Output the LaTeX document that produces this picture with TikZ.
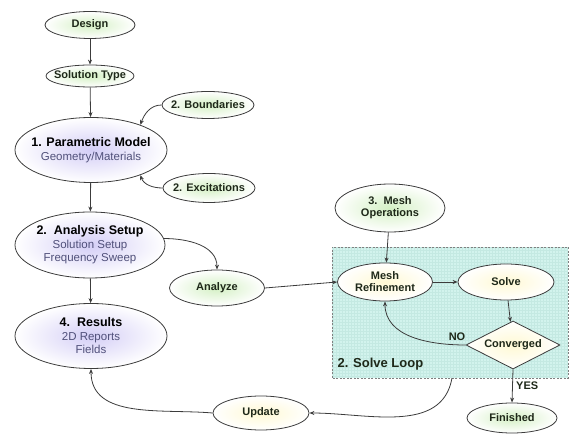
\documentclass[tikz,border=0pt]{standalone}
\usepackage{fontspec}
\setmainfont{Liberation Sans}
\usetikzlibrary{shapes.geometric,arrows.meta}
\definecolor{grn}{RGB}{212,240,196}
\definecolor{prp}{RGB}{212,206,246}
\definecolor{ylw}{RGB}{255,249,212}
\definecolor{boxfill}{RGB}{210,243,237}
\definecolor{gridc}{RGB}{196,233,226}
\definecolor{edgec}{RGB}{60,60,60}
\definecolor{subc}{RGB}{80,80,122}
\definecolor{lblc}{RGB}{30,40,25}
\tikzset{
  shp/.style={draw=edgec, line width=0.8pt, inner sep=0pt},
  el/.style={shp, ellipse},
  gel/.style={el, inner color=grn, outer color=white},
  pel/.style={el, inner color=prp, outer color=white},
  yel/.style={el, inner color=ylw, outer color=white},
  small/.style={font=\fontsize{11}{12}\selectfont\bfseries, text=lblc, align=center},
  big/.style={font=\fontsize{11.5}{13.5}\selectfont, text=subc, align=center},
  conn/.style={draw=edgec, line width=0.8pt, -{Stealth[length=5pt,width=4pt]}},
}
\begin{document}
\begin{tikzpicture}[x=1pt,y=1pt]
\useasboundingbox (0,0) rectangle (569,433);
% solve loop box
\fill[boxfill] (332,55) rectangle (568,186);
\draw[gridc, line width=0.15pt, step=3pt] (332,55) grid (568,186);
\draw[gray, line width=0.8pt, dash pattern=on 2pt off 1.5pt] (332,55) rectangle (568,186);
\node[anchor=west, font=\fontsize{13}{15}\selectfont\bfseries, text=lblc] (looplbl) at (334,69) {2. Solve Loop};
\coordinate (boxbot) at (452,55);

% shapes
\node[gel, minimum width=90pt, minimum height=27pt] (design) at (90,408) {};
\node[gel, minimum width=88pt, minimum height=22pt] (soltype) at (90,357) {};
\node[gel, minimum width=92pt, minimum height=27pt] (bound) at (208,328) {};
\node[pel, minimum width=152pt, minimum height=65pt] (param) at (91,283) {};
\node[gel, minimum width=92pt, minimum height=29pt] (excit) at (209,245) {};
\node[pel, minimum width=150pt, minimum height=66pt] (setup) at (90,188) {};
\node[gel, minimum width=95pt, minimum height=36pt] (analyze) at (217,145) {};
\node[pel, minimum width=152pt, minimum height=65pt] (results) at (91,97) {};
\node[gel, minimum width=110pt, minimum height=48pt] (meshops) at (390,225) {};
\node[yel, minimum width=95pt, minimum height=38pt] (meshref) at (385,151) {};
\node[yel, minimum width=96pt, minimum height=36pt] (solve) at (506,151) {};
\node[shp, diamond, inner color=ylw, outer color=white, minimum width=94pt, minimum height=48pt] (conv) at (513,88) {};
\node[gel, minimum width=90pt, minimum height=30pt] (finished) at (512,15) {};
\node[yel, minimum width=96pt, minimum height=34pt] (update) at (261,20) {};

% texts
\node[small] (designt) at (design) {Design};
\node[small] (soltypet) at (soltype) {Solution Type};
\node[small] (boundt) at (bound) {2. Boundaries};
\node[big] (paramt) at (param) {{\color{black}\fontsize{12.5}{15}\selectfont\bfseries 1. Parametric Model}\\Geometry/Materials};
\node[small] (excitt) at (excit) {2. Excitations};
\node[big] (setupt) at (setup) {{\color{black}\fontsize{12.5}{15}\selectfont\bfseries 2.\ \ Analysis Setup}\\Solution Setup\\Frequency Sweep};
\node[small] (analyzet) at (analyze) {Analyze};
\node[big] (resultst) at (results) {{\color{black}\fontsize{12.5}{15}\selectfont\bfseries 4.\ \ Results}\\2D Reports\\Fields};
\node[small] (meshopst) at (meshops) {3.\ \ Mesh\\Operations};
\node[small] (meshreft) at (meshref) {Mesh\\Refinement};
\node[small] (solvet) at (solve) {Solve};
\node[small] (convt) at (conv) {Converged};
\node[small] (finishedt) at (finished) {Finished};
\node[small] (updatet) at (update) {Update};

% connectors
\draw[conn] (design) -- (soltype);
\draw[conn] (soltype) -- (param);
\draw[conn] (bound.west) to[out=180,in=70] (param.27);
\draw[conn] (excit.west) to[out=180,in=-70] (param.-27);
\draw[conn] (param) -- (setup);
\draw[conn] (setup) -- (results);
\draw[conn] (setup.5) to[out=0,in=90] (analyze.north);
\draw[conn] (analyze.east) -- (meshref.west);
\draw[conn] (meshops) -- (meshref);
\draw[conn] (meshref) -- (solve);
\draw[conn] (solve) -- (conv);
\draw[conn] (conv.west) to[out=180,in=-90] (meshref.south);
\draw[conn] (conv.south) -- node[right, small] (yes) {YES} (finished.north);
\draw[conn] (boxbot) to[out=-100,in=0] (update.east);
\draw[conn] (update.west) to[out=175,in=-90] (results.south);
\node[small] (no) at (457,96) {NO};
\end{tikzpicture}
\end{document}
